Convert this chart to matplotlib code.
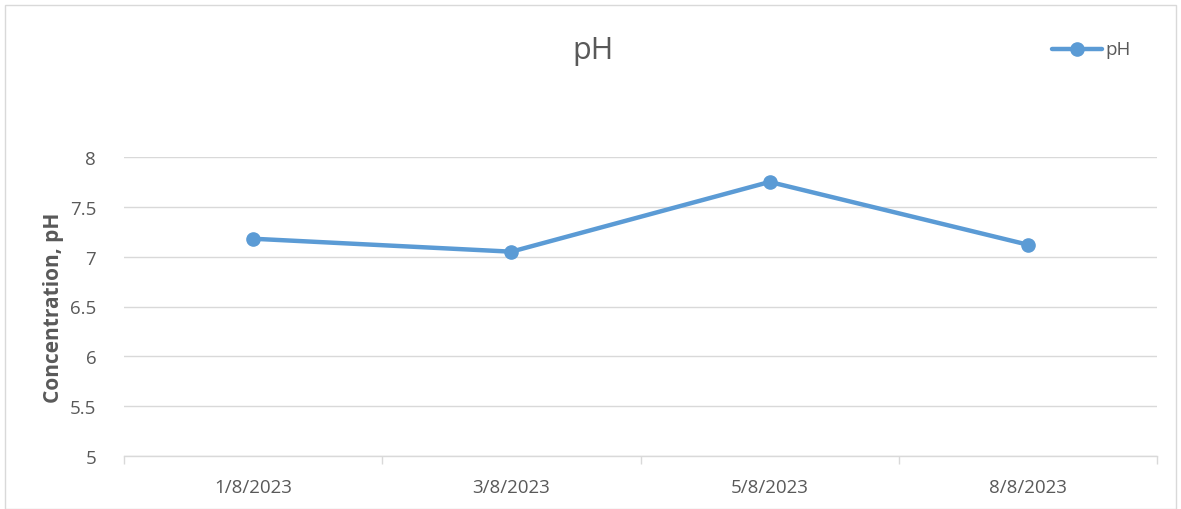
import matplotlib.pyplot as plt
from matplotlib.patches import Rectangle
from matplotlib.lines import Line2D

dates = ["1/8/2023", "3/8/2023", "5/8/2023", "8/8/2023"]
ph_values = [7.18, 7.05, 7.75, 7.12]
y_ticks = [5, 5.5, 6, 6.5, 7, 7.5, 8]

plt.rcParams['font.family'] = ['Open Sans', 'DejaVu Sans']
text_color = '#595959'
line_color = '#5B9BD5'

fig = plt.figure(figsize=(11.81, 5.10), dpi=100)
ax = fig.add_axes([124 / 1181, 1 - 457 / 510, (1157 - 124) / 1181, (457 - 158) / 510])

x = list(range(len(dates)))
ax.plot(x, ph_values, color=line_color, linewidth=3.2, marker='o', markersize=9.5,
        solid_capstyle='round', zorder=3)

ax.set_xlim(-0.5, len(dates) - 0.5)
ax.set_ylim(5, 8)
ax.set_yticks(y_ticks)
ax.set_yticklabels([f"{v:g}" for v in y_ticks])
ax.set_xticks(x)
ax.set_xticklabels(dates)
ax.set_xticks([i - 0.5 for i in range(len(dates) + 1)], minor=True)

ax.grid(axis='y', color='#D9D9D9', linewidth=1)
ax.set_axisbelow(True)
for s in ['top', 'right', 'left']:
    ax.spines[s].set_visible(False)
ax.spines['bottom'].set_color('#D9D9D9')
ax.spines['bottom'].set_linewidth(1)

ax.tick_params(axis='y', length=0, pad=20, labelsize=13.5, labelcolor=text_color)
ax.tick_params(axis='x', which='major', length=0, pad=16, labelsize=13.5, labelcolor=text_color)
ax.tick_params(axis='x', which='minor', length=6, color='#D9D9D9', width=1)

ax.set_ylabel("Concentration, pH", fontsize=15, fontweight='bold', color=text_color, labelpad=4)

fig.text(593 / 1181, 1 - 51 / 510, "pH", ha='center', va='center', fontsize=22, color=text_color)

# legend entry drawn in figure coords
lx0, lx1, ly = 1052 / 1181, 1102 / 1181, 1 - 50 / 510
fig.add_artist(Line2D([lx0, lx1], [ly, ly], color=line_color, linewidth=3.2,
                      solid_capstyle='round', transform=fig.transFigure))
fig.add_artist(Line2D([(lx0 + lx1) / 2], [ly], color=line_color, marker='o', markersize=9.5,
                      transform=fig.transFigure))
fig.text(1105 / 1181, ly, "pH", ha='left', va='center', fontsize=13.5, color=text_color)

# chart border
fig.add_artist(Rectangle((5 / 1181, 0), 1 - 10 / 1181, 1 - 6 / 510, fill=False,
                         edgecolor='#D9D9D9', linewidth=1, transform=fig.transFigure))

fig.savefig("out.png", dpi=100)
